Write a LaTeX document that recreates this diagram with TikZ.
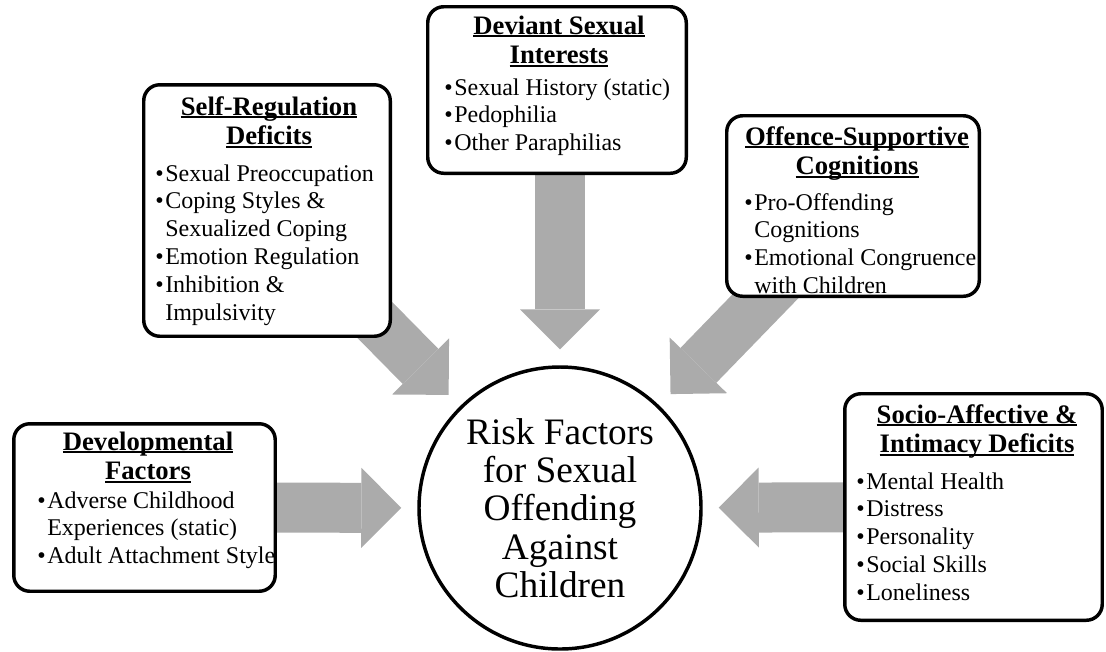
\documentclass[tikz,border=0pt]{standalone}
\usepackage{fontspec}
\setmainfont{Liberation Serif}
\usetikzlibrary{arrows.meta,backgrounds}
\definecolor{arrowgray}{RGB}{171,171,171}
\newcommand{\hdul}[1]{\leavevmode\setbox0\hbox{#1}\rlap{\rule[-2.4pt]{\wd0}{1.3pt}}\box0}
\newcommand{\nl}{\hfil\break}
\newcommand{\itm}[1]{\hangindent=7.5pt\hangafter=1\noindent\makebox[7.5pt][l]{\textbullet}#1\par}
\tikzset{
  box/.style={draw=black, line width=2.6pt, rounded corners=12pt, fill=white, inner sep=0pt},
  hd/.style={inner sep=0pt, font=\fontsize{20}{22}\selectfont\bfseries, align=flush center, text width=180pt, anchor=base},
  lst/.style={inner sep=0pt, font=\fontsize{18}{20.9}\selectfont, align=flush left, text width=185pt, anchor=base west},
  core/.style={draw=black, line width=2.6pt, circle, fill=white, inner sep=0pt, minimum size=211.5pt,
    font=\fontsize{28}{28.7}\selectfont, align=flush center, text width=160pt},
  bigarrow/.style={draw=arrowgray, line width=37.5pt, -{Triangle[length=30pt,width=60pt,line width=0pt]}, shorten >=12pt},
}
\begin{document}
\begin{tikzpicture}[x=0.75pt,y=-0.75pt]
\useasboundingbox (0,0) rectangle (1106,651);
% boxes
\node[box, minimum width=184.9pt, minimum height=188.6pt] (sr) at (267,210.5) {};
\node[box, minimum width=193.9pt, minimum height=124.9pt] (dsi) at (557,90) {};
\node[box, minimum width=189.4pt, minimum height=135.4pt] (osc) at (853,206) {};
\node[box, minimum width=196.1pt, minimum height=125.6pt] (dev) at (144.5,507.5) {};
\node[box, minimum width=193.1pt, minimum height=169.9pt] (soc) at (973.5,507) {};
\node[core] (core) at (560,508) {Risk Factors\\for Sexual\\Offending\\Against\\Children};
% headings
\node[hd] (srh) at (269,115) {\hdul{Self-Regulation}\\\hdul{Deficits}};
\node[hd] (dsih) at (559,34) {\hdul{Deviant Sexual}\\\hdul{Interests}};
\node[hd] (osch) at (857,145) {\hdul{Offence-Supportive}\\\hdul{Cognitions}};
\node[hd] (devh) at (148,450) {\hdul{Developmental}\\\hdul{Factors}};
\node[hd] (soch) at (977,423) {\hdul{Socio-Affective \&}\\\hdul{Intimacy Deficits}};
% lists
\node[lst] (srl) at (155,181) {\itm{Sexual Preoccupation}\itm{Coping Styles \&\nl Sexualized Coping}\itm{Emotion Regulation}\itm{Inhibition \&\nl Impulsivity}};
\node[lst] (dsil) at (444,95) {\itm{Sexual History (static)}\itm{Pedophilia}\itm{Other Paraphilias}};
\node[lst] (oscl) at (744,210) {\itm{Pro-Offending\nl Cognitions}\itm{Emotional Congruence\nl with Children}};
\node[lst] (devl) at (37,508) {\itm{Adverse Childhood\nl Experiences (static)}\itm{Adult Attachment Style}};
\node[lst] (socl) at (856,489) {\itm{Mental Health}\itm{Distress}\itm{Personality}\itm{Social Skills}\itm{Loneliness}};
% arrows
\begin{scope}[on background layer]
\draw[bigarrow] (core |- dsi.center) -- (core);
\draw[bigarrow] (sr.center) -- (core);
\draw[bigarrow] (osc.center) -- (core);
\draw[bigarrow] (dev.center) -- (core);
\draw[bigarrow] (soc.center) -- (core);
\end{scope}
\end{tikzpicture}
\end{document}
